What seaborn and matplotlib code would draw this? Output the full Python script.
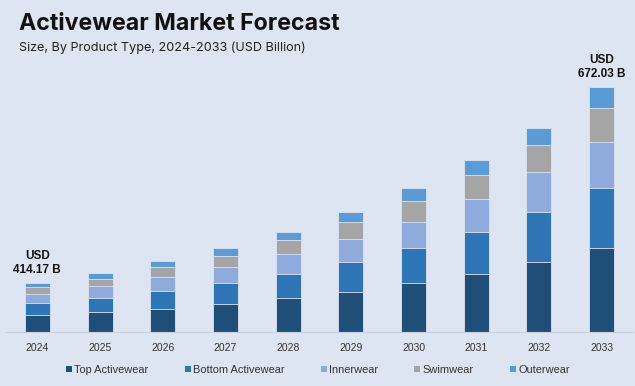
import numpy as np
import pandas as pd
import matplotlib
matplotlib.use("Agg")
import matplotlib.pyplot as plt
import seaborn as sns
from matplotlib.patches import Patch

years = ["2024", "2025", "2026", "2027", "2028", "2029", "2030", "2031", "2032", "2033"]
series = ["Top Activewear", "Bottom Activewear", "Innerwear", "Swimwear", "Outerwear"]
top_activewear = [45.8, 54.9, 63.9, 77.9, 94.4, 110.8, 135.5, 160.2, 192.0, 229.6]
bottom_activewear = [34.6, 37.6, 47.7, 57.6, 64.7, 82.3, 94.9, 114.1, 136.3, 164.6]
innerwear = [23.6, 33.7, 38.4, 42.8, 56.0, 61.2, 72.4, 90.5, 110.5, 127.0]
swimwear = [18.4, 20.0, 27.4, 30.2, 37.3, 47.5, 55.7, 65.0, 75.2, 93.3]
outerwear = [11.0, 14.8, 16.5, 21.9, 21.9, 26.6, 36.5, 41.1, 46.6, 57.6]
colors = ["#1f4e79", "#2e75b6", "#8faadc", "#a5a5a5", "#5b9bd5"]
annotations = {"2024": "USD\n414.17 B", "2033": "USD\n672.03 B"}

bg = "#dce5f1"
sns.set_theme(style="white")
plt.rcParams["font.family"] = ["Liberation Sans", "DejaVu Sans"]

values = [top_activewear, bottom_activewear, innerwear, swimwear, outerwear]
cum = np.cumsum(np.array(values), axis=0)

fig = plt.figure(figsize=(6.35, 3.86), dpi=100, facecolor=bg)
ax = fig.add_axes([6 / 635, (386 - 332) / 386, 627 / 635, 272 / 386])
ax.set_facecolor(bg)

for i in range(len(series) - 1, -1, -1):
    df = pd.DataFrame({"year": years, "value": cum[i]})
    sns.barplot(data=df, x="year", y="value", color=colors[i], width=0.4,
                edgecolor=bg, linewidth=0.6, saturation=1, ax=ax)

ax.set_xlim(-0.5, 9.5)
ax.set_ylim(0, 272 * 2.743)
ax.set_xlabel("")
ax.set_ylabel("")
ax.set_yticks([])
for s in ["top", "left", "right"]:
    ax.spines[s].set_visible(False)
ax.spines["bottom"].set_color("#c8d2de")
ax.spines["bottom"].set_linewidth(0.8)
ax.tick_params(axis="x", length=0, pad=8, labelsize=7.5, labelcolor="#333333")

totals = cum[-1]
for yr, txt in annotations.items():
    idx = years.index(yr)
    ax.annotate(txt, (idx, totals[idx]), xytext=(0, 5), textcoords="offset points",
                ha="center", va="bottom", fontsize=8.5, fontweight="bold",
                color="#111111", linespacing=1.25)

title = fig.text(19 / 635, 1 - 23.5 / 386, "Activewear Market Forecast", fontsize=14.5,
                 fontweight="bold", family=["Inter", "DejaVu Sans"], color="#111111",
                 va="center", ha="left")
sub = fig.text(19 / 635, 1 - 48 / 386, "Size, By Product Type, 2024-2033 (USD Billion)",
               fontsize=8.3, family=["Inter", "DejaVu Sans"], color="#222222",
               va="center", ha="left")

# fit text widths to the reference layout
renderer = fig.canvas.get_renderer()
for t, target in [(title, 320), (sub, 287)]:
    w = t.get_window_extent(renderer).width
    t.set_fontsize(t.get_fontsize() * target / w)

handles = [Patch(facecolor=c, edgecolor="none") for c in colors]
leg = fig.legend(handles, series, loc="center", bbox_to_anchor=(318 / 635, 1 - 370 / 386),
                 ncol=5, frameon=False, fontsize=7.9, handlelength=0.55, handleheight=0.55,
                 handletextpad=0.2, columnspacing=3.3, labelcolor="#333333")

fig.savefig("out.png", dpi=100, facecolor=bg)
